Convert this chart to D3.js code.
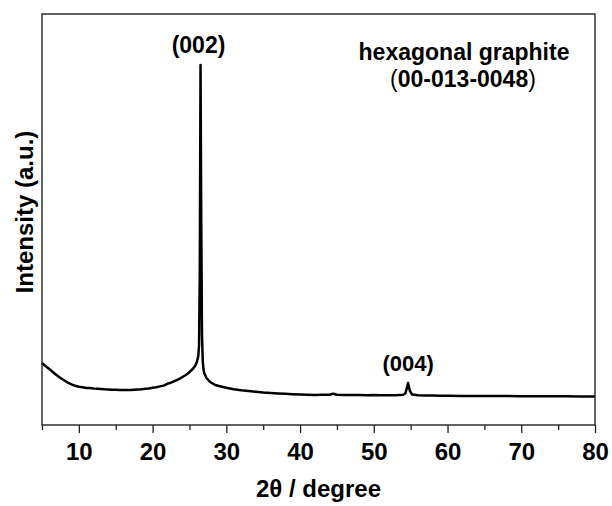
<!DOCTYPE html>
<html>
<head>
<meta charset="utf-8">
<script src="https://cdn.jsdelivr.net/npm/d3@7"></script>
<style>
  body { margin: 0; background: #fff; }
  svg text { font-family: "Liberation Sans", Arial, sans-serif; font-weight: bold; fill: #000; }
</style>
</head>
<body>
<svg id="chart"></svg>
<script>
const width = 612;
const height = 506;

// 2theta (degree) and intensity (a.u.)
const twoTheta = [5.0, 5.5, 6.0, 6.5, 7.0, 7.5, 8.0, 8.5, 9.0, 9.5,
  10.0, 10.5, 11.0, 11.5, 12.0, 12.5, 13.0, 13.5, 14.0, 14.5,
  15.0, 15.5, 16.0, 16.5, 17.0, 17.5, 18.0, 18.5, 19.0, 19.5,
  20.0, 20.5, 21.0, 21.5, 22.0, 22.5, 23.0, 23.5, 24.0, 24.5,
  25.0, 25.5, 25.8, 26.0, 26.2, 26.3, 26.4, 26.5, 26.6, 26.7,
  26.8, 26.9, 27.0, 27.3, 27.8, 28.5, 29.0, 30.0, 31.0, 32.0,
  33.0, 34.0, 35.0, 36.0, 37.0, 38.0, 39.0, 40.0, 41.0, 42.0,
  43.0, 44.0, 44.5, 45.0, 46.0, 47.0, 48.0, 49.0, 50.0, 51.0,
  52.0, 53.0, 54.0, 54.3, 54.65, 54.9, 55.2, 56.0, 57.0, 58.0,
  59.0, 60.0, 62.0, 64.0, 66.0, 68.0, 70.0, 72.0, 74.0, 76.0,
  78.0, 80.0];
const intensity = [620, 588, 560, 528, 498, 470, 447, 424, 407, 392,
  382, 377, 371, 369, 364, 362, 360, 357, 356, 353,
  352, 350, 349, 351, 350, 353, 355, 357, 362, 365,
  372, 377, 386, 394, 412, 424, 440, 456, 478, 500,
  528, 565, 595, 630, 690, 800, 1500, 3600, 2000, 900,
  640, 560, 520, 470, 430, 400, 390, 372, 358, 348,
  340, 333, 325, 320, 316, 312, 308, 305, 303, 301,
  302, 303, 312, 302, 300, 299, 300, 298, 299, 298,
  297, 298, 302, 318, 420, 340, 305, 298, 296, 294,
  293, 292, 291, 290, 289, 289, 288, 288, 287, 287,
  286, 286];

const xTicks = [10, 20, 30, 40, 50, 60, 70, 80];
const xMinorTicks = [5, 15, 25, 35, 45, 55, 65, 75];

const data = twoTheta.map((t, i) => ({ t, v: intensity[i] }));

const margin = { left: 42, right: 17, top: 14, bottom: 81 };
const plotW = width - margin.left - margin.right;
const plotH = height - margin.top - margin.bottom;

const svg = d3.select("#chart")
    .attr("width", width)
    .attr("height", height);

const x = d3.scaleLinear().domain([5, 80]).range([0, plotW]);
const y = d3.scaleLinear().domain([0, 4110]).range([plotH, 0]);

const g = svg.append("g")
    .attr("transform", `translate(${margin.left},${margin.top})`);

// minor ticks
g.append("g")
    .attr("transform", `translate(0,${plotH})`)
    .call(d3.axisBottom(x).tickValues(xMinorTicks).tickSize(5).tickFormat(""))
    .call(a => a.select(".domain").remove())
    .call(a => a.selectAll("line").attr("stroke", "#222").attr("stroke-width", 1.3));

// major ticks + labels
g.append("g")
    .attr("transform", `translate(0,${plotH})`)
    .call(d3.axisBottom(x).tickValues(xTicks).tickSize(8).tickPadding(9.5))
    .call(a => a.select(".domain").remove())
    .call(a => a.selectAll("line").attr("stroke", "#222").attr("stroke-width", 1.3))
    .call(a => a.selectAll("text")
        .attr("font-size", 24)
        .attr("font-family", "'Liberation Sans', Arial, sans-serif")
        .attr("font-weight", "bold")
        .attr("fill", "#000"));

// pattern
const line = d3.line()
    .x(d => x(d.t))
    .y(d => y(d.v));

g.append("path")
    .datum(data)
    .attr("fill", "none")
    .attr("stroke", "#000")
    .attr("stroke-width", 2.5)
    .attr("stroke-linejoin", "round")
    .attr("d", line);

// frame
g.append("rect")
    .attr("width", plotW)
    .attr("height", plotH)
    .attr("fill", "none")
    .attr("stroke", "#222")
    .attr("stroke-width", 1.4);

// peak labels
g.append("text")
    .attr("x", x(26.5) - 2)
    .attr("y", y(3600) - 12)
    .attr("text-anchor", "middle")
    .attr("font-size", 23)
    .text("(002)");

g.append("text")
    .attr("x", x(54.65))
    .attr("y", y(420) - 12)
    .attr("text-anchor", "middle")
    .attr("font-size", 22)
    .text("(004)");

// phase reference
g.append("text")
    .attr("x", 422)
    .attr("y", 46)
    .attr("text-anchor", "middle")
    .attr("font-size", 23)
    .text("hexagonal graphite");

const ref = g.append("text")
    .attr("x", 421)
    .attr("y", 73)
    .attr("text-anchor", "middle")
    .attr("font-size", 23);
ref.append("tspan").attr("font-weight", "normal").text("(");
ref.append("tspan").text("00-013-0048");
ref.append("tspan").attr("font-weight", "normal").text(")");

// axis titles
svg.append("text")
    .attr("x", margin.left + plotW / 2)
    .attr("y", 497)
    .attr("text-anchor", "middle")
    .attr("font-size", 24)
    .text("2θ / degree");

svg.append("text")
    .attr("transform", "translate(33,212) rotate(-90)")
    .attr("text-anchor", "middle")
    .attr("font-size", 24)
    .text("Intensity (a.u.)");
</script>
</body>
</html>
